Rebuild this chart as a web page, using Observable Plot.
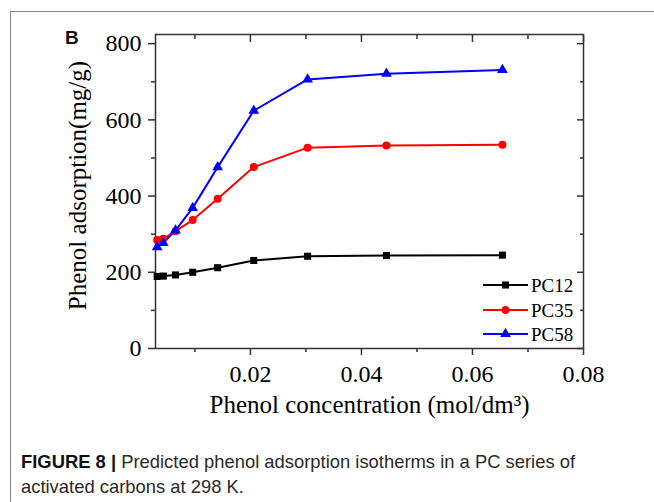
<!DOCTYPE html>
<html>
<head>
<meta charset="utf-8">
<script src="https://cdn.jsdelivr.net/npm/d3@7"></script>
<script src="https://cdn.jsdelivr.net/npm/@observablehq/plot@0.6"></script>
<style>
  html, body { margin: 0; padding: 0; background: #fff; }
  #wrap { position: relative; width: 654px; height: 502px; overflow: hidden; background: #fff; }
  #border { position: absolute; left: 10px; top: 11px; width: 700px; height: 600px; border-top: 1px solid #8a8a8a; border-left: 1px solid #8a8a8a; }
  #chart { position: absolute; left: 0; top: 0; }
  #legend { position: absolute; left: 0; top: 0; }
  #panel { position: absolute; left: 65px; top: 27px; font: bold 19px "Liberation Sans", Arial, sans-serif; color: #111; }
  #caption { position: absolute; left: 21px; top: 449px; width: 630px; white-space: nowrap; font: 18.4px "Liberation Sans", Arial, sans-serif; line-height: 25px; color: #2a2a2a; }
  #caption b { color: #111; }
</style>
</head>
<body>
<div id="wrap">
  <div id="border"></div>
  <div id="chart"></div>
  <svg id="legend" width="654" height="502"></svg>
  <div id="panel">B</div>
  <div id="caption"><b>FIGURE 8 |</b> Predicted phenol adsorption isotherms in a PC series of<br>activated carbons at 298 K.</div>
</div>
<script>
// ---- data ----
const concentration = [0.0032, 0.0043, 0.0065, 0.0096, 0.0141, 0.0206, 0.0303, 0.0445, 0.0654];
const pc12 = [189, 190, 193, 200, 212, 231, 242, 244, 245];
const pc35 = [285, 288, 308, 337, 393, 476, 527, 533, 535];
const pc58 = [266, 277, 310, 369, 476, 624, 706, 721, 731];
const seriesNames = ["PC12", "PC35", "PC58"];
const seriesColors = ["#000000", "#ff0000", "#0000ff"];
const seriesSymbols = ["square", "circle", "triangle"];
const xMajorTicks = [0.02, 0.04, 0.06, 0.08];
const xMinorTicks = [0.01, 0.03, 0.05, 0.07];
const yMajorTicks = [0, 200, 400, 600, 800];
const yMinorTicks = [100, 300, 500, 700];
const xTitle = "Phenol concentration (mol/dm³)";
const yTitle = "Phenol adsorption(mg/g)";

const seriesValues = [pc12, pc35, pc58];
const rows = [];
seriesNames.forEach((name, i) => {
  concentration.forEach((c, j) => rows.push({series: name, x: c, y: seriesValues[i][j]}));
});

const serif = '"Liberation Serif", "Times New Roman", Times, serif';
const axisColor = "#333";
const tickOnly = {stroke: axisColor, strokeWidth: 1.5, fill: "none", label: null};
const markerR = 4;

const marks = [
  Plot.frame({stroke: axisColor, strokeWidth: 1.5}),
  // bottom
  Plot.axisX(xMajorTicks, {anchor: "bottom", tickSize: 7, tickPadding: 9, stroke: axisColor, strokeWidth: 1.5, tickFormat: d => d.toFixed(2), fontSize: 24, fill: "#000", label: null}),
  Plot.axisX(xMinorTicks, {anchor: "bottom", tickSize: 4, ...tickOnly}),
  // top (inward)
  Plot.axisX(xMajorTicks, {anchor: "top", tickSize: -7, ...tickOnly}),
  Plot.axisX(xMinorTicks, {anchor: "top", tickSize: -4, ...tickOnly}),
  // left
  Plot.axisY(yMajorTicks, {anchor: "left", tickSize: 7, tickPadding: 7, stroke: axisColor, strokeWidth: 1.5, fontSize: 24, fill: "#000", label: null}),
  Plot.axisY(yMinorTicks, {anchor: "left", tickSize: 4, ...tickOnly}),
  // right (inward)
  Plot.axisY(yMajorTicks, {anchor: "right", tickSize: -7, ...tickOnly}),
  Plot.axisY(yMinorTicks, {anchor: "right", tickSize: -4, ...tickOnly}),
  // titles
  Plot.text([xTitle], {frameAnchor: "bottom", dy: 64, fontSize: 25, fill: "#000", lineAnchor: "bottom"}),
  Plot.text([yTitle], {frameAnchor: "left", textAnchor: "middle", dx: -78, dy: -6, rotate: -90, fontSize: 25, fill: "#000"}),
  // data
  Plot.line(rows, {x: "x", y: "y", z: "series", stroke: "series", strokeWidth: 2}),
  Plot.dot(rows, {x: "x", y: "y", fill: "series", symbol: "series", r: markerR, stroke: null})
];

const chart = Plot.plot({
  width: 654,
  height: 430,
  marginLeft: 155,
  marginRight: 71,
  marginTop: 34,
  marginBottom: 82,
  x: {domain: [0.0029, 0.08], axis: null},
  y: {domain: [0, 824], axis: null},
  color: {domain: seriesNames, range: seriesColors},
  symbol: {domain: seriesNames, range: seriesSymbols},
  style: {fontFamily: serif, background: "transparent", color: "#000", overflow: "visible"},
  marks
});
document.getElementById("chart").appendChild(chart);

// legend overlay
const lg = d3.select("#legend");
const rowY = [285, 310, 334];
seriesNames.forEach((name, i) => {
  const g = lg.append("g").attr("transform", `translate(0,${rowY[i]})`);
  g.append("line").attr("x1", 483).attr("x2", 528).attr("y1", 0).attr("y2", 0)
    .attr("stroke", seriesColors[i]).attr("stroke-width", 2);
  const sym = {square: d3.symbolSquare, circle: d3.symbolCircle, triangle: d3.symbolTriangle}[seriesSymbols[i]];
  g.append("path").attr("d", d3.symbol(sym, Math.PI * markerR * markerR)()).attr("transform", "translate(505.5,0)")
    .attr("fill", seriesColors[i]);
  g.append("text").attr("x", 531).attr("y", 7).attr("font-family", serif).attr("font-size", 19)
    .attr("fill", "#000").text(name);
});
</script>
</body>
</html>
